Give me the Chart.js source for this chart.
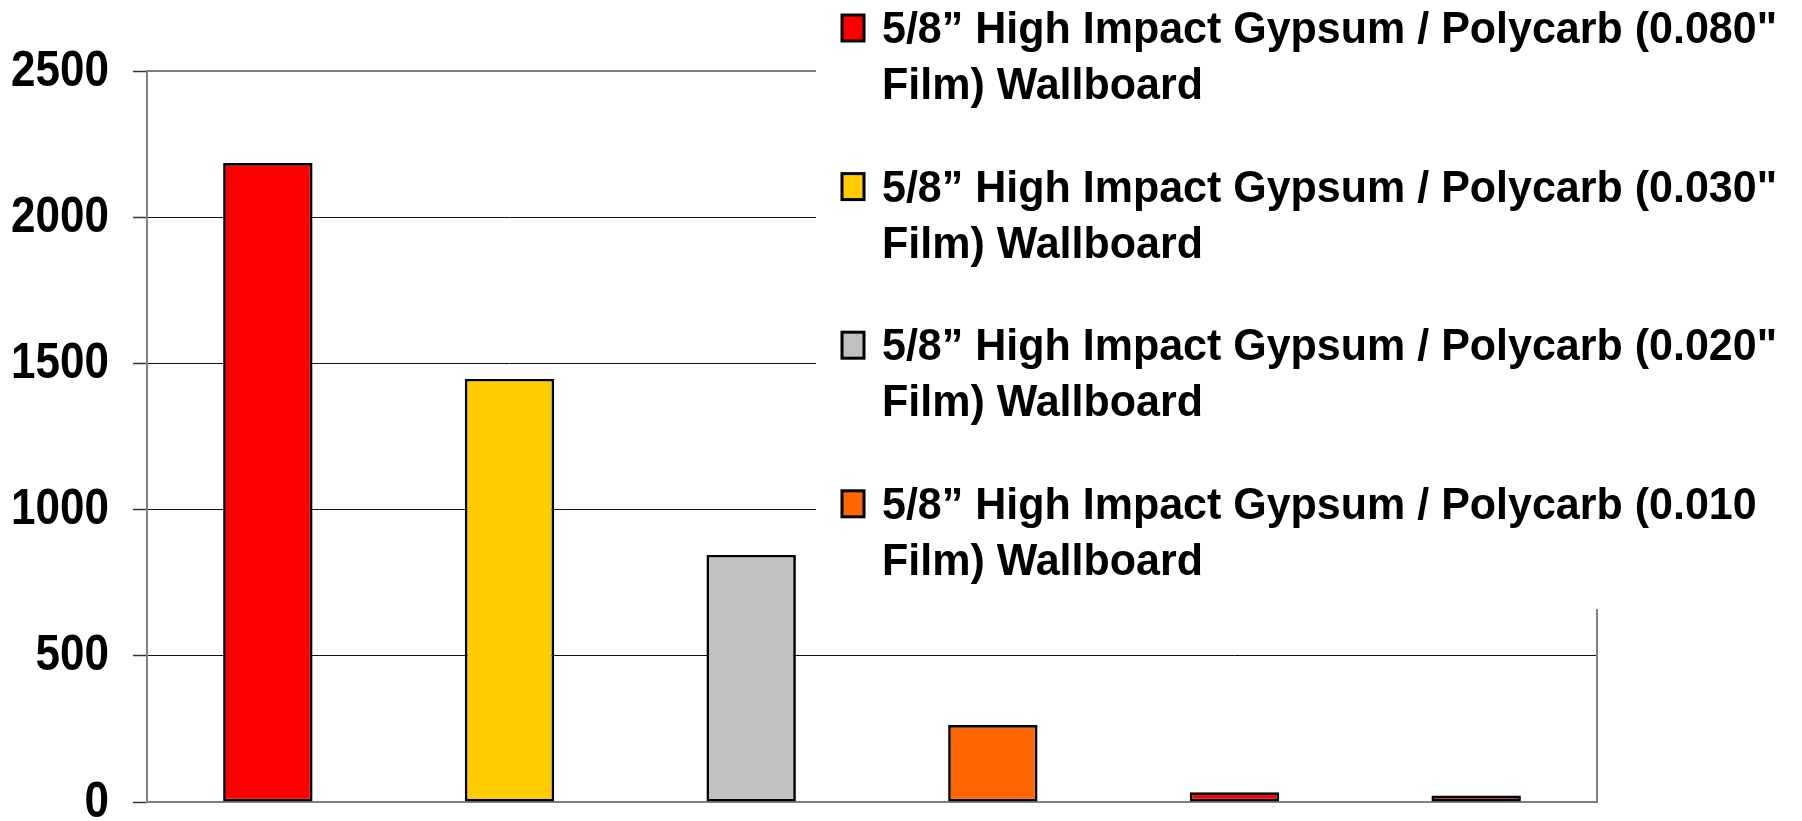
<!DOCTYPE html>
<html>
<head>
<meta charset="utf-8">
<script src="https://cdn.jsdelivr.net/npm/chart.js@4/dist/chart.umd.min.js"></script>
<style>
  html, body { margin: 0; padding: 0; background: #fff; }
  #wrap { width: 1802px; height: 821px; }
</style>
</head>
<body>
<div id="wrap"><canvas id="grafico" width="1802" height="821"></canvas></div>
<script>
// Categorias (uma barra por painel ensaiado)
const categorias = ['1', '2', '3', '4', '5', '6'];

// Valores de cada barra
const valores = [2185, 1447, 845, 263, 33, 22];

// Cores das barras
const cores = ['#ff0000', '#ffcc00', '#c0c0c0', '#ff6600', '#ff0000', '#ff0000'];

// Marcas do eixo Y
const marcasY = [0, 500, 1000, 1500, 2000, 2500];

// Itens da legenda (duas linhas cada)
const legenda = [
  ['5/8\u201d High Impact Gypsum / Polycarb (0.080"', 'Film) Wallboard'],
  ['5/8\u201d High Impact Gypsum / Polycarb (0.030"', 'Film) Wallboard'],
  ['5/8\u201d High Impact Gypsum / Polycarb (0.020"', 'Film) Wallboard'],
  ['5/8\u201d High Impact Gypsum / Polycarb (0.010', 'Film) Wallboard']
];
const coresLegenda = cores.slice(0, legenda.length);

const fonte = '"Liberation Sans", Arial, sans-serif';

// Moldura cinza da área do gráfico
const moldura = {
  id: 'moldura',
  beforeDatasetsDraw(chart) {
    const { ctx, chartArea: a } = chart;
    ctx.save();
    ctx.strokeStyle = '#808080';
    ctx.lineWidth = 2;
    ctx.strokeRect(a.left, a.top, a.right - a.left, a.bottom - a.top);
    ctx.restore();
  }
};

// Rótulos do eixo Y um pouco mais altos que a fonte normal
const rotulosY = {
  id: 'rotulosY',
  afterDraw(chart) {
    const { ctx } = chart;
    const y = chart.scales.y;
    ctx.save();
    ctx.font = 'bold 44px ' + fonte;
    ctx.fillStyle = '#000';
    ctx.textAlign = 'right';
    ctx.textBaseline = 'middle';
    y.ticks.forEach(t => {
      const py = y.getPixelForValue(t.value);
      ctx.save();
      ctx.translate(109, py + 1);
      ctx.scale(1, 1.12);
      ctx.fillText(String(t.value), 0, 0);
      ctx.restore();
    });
    ctx.restore();
  }
};

// Legenda desenhada sobre o gráfico, com fundo branco
const legendaPlugin = {
  id: 'legendaPlugin',
  afterDraw(chart) {
    const { ctx } = chart;
    ctx.save();
    ctx.fillStyle = '#fff';
    ctx.fillRect(816, 0, 1802 - 816, 609);
    ctx.font = 'bold 43px ' + fonte;
    ctx.textBaseline = 'alphabetic';
    ctx.textAlign = 'left';
    legenda.forEach((linhas, i) => {
      const y0 = 43 + i * 158.6;
      ctx.fillStyle = coresLegenda[i];
      ctx.fillRect(842, y0 - 28, 22, 26);
      ctx.strokeStyle = '#000';
      ctx.lineWidth = 3;
      ctx.strokeRect(842, y0 - 28, 22, 26);
      ctx.fillStyle = '#000';
      linhas.forEach((t, j) => {
        ctx.save();
        ctx.translate(882, y0 + j * 56);
        ctx.scale(1, 1.05);
        ctx.fillText(t, 0, 0);
        ctx.restore();
      });
    });
    ctx.restore();
  }
};

new Chart(document.getElementById('grafico'), {
  type: 'bar',
  data: {
    labels: categorias,
    datasets: [{
      data: valores,
      backgroundColor: cores,
      borderColor: '#000',
      borderWidth: 2.7,
      borderSkipped: false,
      categoryPercentage: 1,
      barPercentage: 0.37
    }]
  },
  options: {
    responsive: false,
    animation: false,
    layout: { padding: { top: 71, right: 205, bottom: 19, left: 0 } },
    plugins: {
      legend: { display: false },
      tooltip: { enabled: false }
    },
    scales: {
      x: {
        display: false,
        grid: { display: false }
      },
      y: {
        min: 0,
        max: 2500,
        afterFit: s => {
          s.width = 147;
          s.paddingTop = 0;
          s.paddingBottom = 0;
        },
        afterBuildTicks: s => { s.ticks = marcasY.map(v => ({ value: v })); },
        border: { display: false },
        grid: {
          color: c => (c.tick && (c.tick.value === 0 || c.tick.value === 2500)) ? 'rgba(0,0,0,0)' : '#111',
          lineWidth: 1,
          tickColor: '#333',
          tickLength: 14,
          tickWidth: 1.5
        },
        ticks: {
          padding: 24,
          color: 'rgba(0,0,0,0)',
          font: { family: fonte, size: 44, weight: 'bold' },
          callback: v => String(v)
        }
      }
    }
  },
  plugins: [moldura, rotulosY, legendaPlugin]
});
</script>
</body>
</html>
